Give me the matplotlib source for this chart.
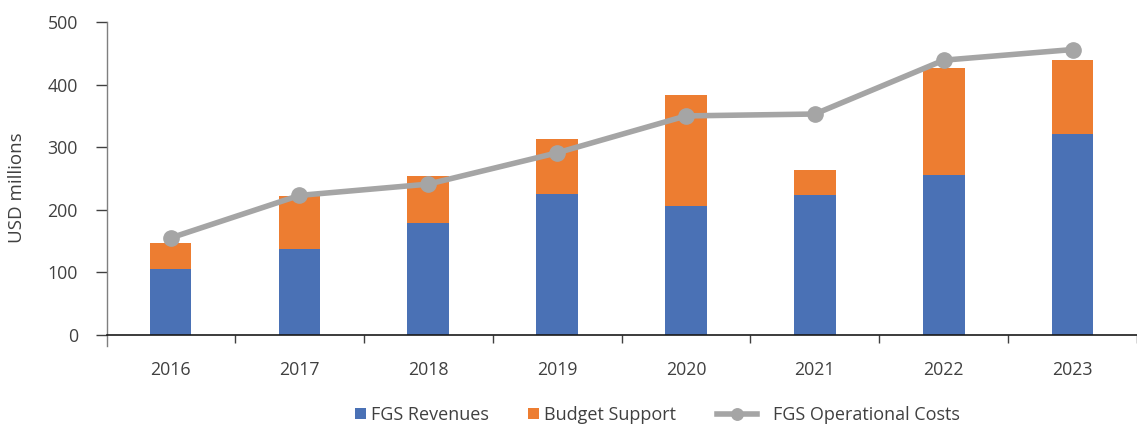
import matplotlib
matplotlib.use("Agg")
import matplotlib.pyplot as plt
import numpy as np

years = ["2016", "2017", "2018", "2019", "2020", "2021", "2022", "2023"]
fgs_revenues = [105, 137, 179, 226, 206, 224, 256, 321]
budget_support = [42, 85, 75, 87, 177, 40, 171, 118]
operational_costs = [155, 223, 241, 291, 350, 353, 439, 456]

BLUE = "#4A71B5"
ORANGE = "#ED7D31"
GRAY = "#A5A5A5"
TXT = "#404040"

plt.rcParams['font.family'] = ['Open Sans', 'DejaVu Sans']

fig = plt.figure(figsize=(11.37, 4.24), dpi=100)
W, H = 1137, 424
ax = fig.add_axes([107 / W, (H - 335) / H, (1137 - 107) / W, (335 - 22) / H])

x = np.arange(len(years))
bw = 0.323
b1 = ax.bar(x, fgs_revenues, bw, color=BLUE, label="FGS Revenues", zorder=2)
b2 = ax.bar(x, budget_support, bw, bottom=fgs_revenues, color=ORANGE, label="Budget Support", zorder=2)
ln, = ax.plot(x, operational_costs, color=GRAY, lw=4.0, marker='o', ms=11,
              label="FGS Operational Costs", zorder=3)

ax.set_xlim(-0.493, 7.439)
ax.set_ylim(0, 500)
ax.set_yticks([0, 100, 200, 300, 400, 500])

for s in ["top", "right"]:
    ax.spines[s].set_visible(False)
ax.spines["left"].set_color("#7F7F7F")
ax.spines["left"].set_linewidth(1.0)
ax.spines["left"].set_bounds(-17, 500)
ax.spines["bottom"].set_color("#1A1A1A")
ax.spines["bottom"].set_linewidth(1.2)

ax.set_xticks(x)
ax.set_xticklabels(years)
ax.set_xticks(np.arange(len(years)) + 0.5, minor=True)
ax.tick_params(axis='x', which='major', length=0, pad=19, labelsize=12.8, labelcolor=TXT)
ax.tick_params(axis='x', which='minor', length=6, width=1, color="#404040", direction='out')
ax.tick_params(axis='y', length=8, width=1, color="#404040", pad=13, labelsize=12.8, labelcolor=TXT)

ax.set_ylabel("USD millions", fontsize=13.5, color=TXT)
ax.yaxis.set_label_coords((26 - 107) / 1030, (335 - 188) / 313)

fs = 13
em = fs * 100 / 72  # pixels per em
ly = (H - 415) / H
entries = [
    (b1, "FGS Revenues", 355, 11 / em, 5 / em),
    (b2, "Budget Support", 528, 11 / em, 5 / em),
    (ln, "FGS Operational Costs", 717, 40 / em, 16 / em),
]
for h, lab, x0, hl, tp in entries:
    leg = fig.legend([h], [lab], loc='center left', bbox_to_anchor=(x0 / W, ly),
                     frameon=False, fontsize=fs, labelcolor=TXT, handlelength=hl,
                     handleheight=0.62, handletextpad=tp, borderpad=0,
                     borderaxespad=0, markerscale=0.75)

fig.savefig("out.png", dpi=100)
